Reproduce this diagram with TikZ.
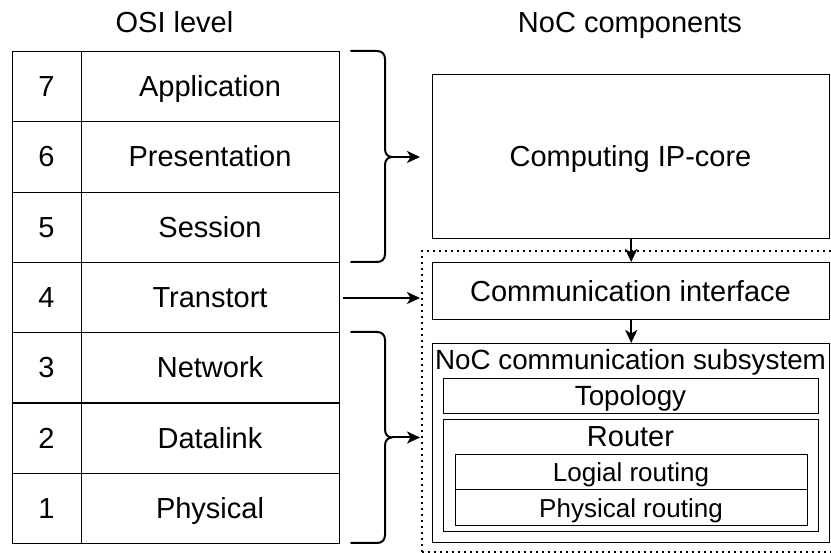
\documentclass[tikz,border=0pt]{standalone}
\usepackage{fontspec}
\setmainfont{Liberation Sans}
\usetikzlibrary{arrows.meta}

\begin{document}
\begin{tikzpicture}[x=1pt,y=-1pt,
  cell/.style={draw, line width=1.1pt, rectangle, inner sep=0pt, anchor=north west},
  box/.style={draw, line width=1.4pt, rectangle, inner sep=0pt, anchor=north west},
  group/.style={draw, line width=1.8pt, dash pattern=on 1.8pt off 4.2pt, rectangle, inner sep=0pt, anchor=north west},
  big/.style={font=\fontsize{29}{33}\selectfont, inner sep=0pt, anchor=base},
  mid/.style={font=\fontsize{27.8}{32}\selectfont, inner sep=0pt, anchor=base},
  small/.style={font=\fontsize{26}{30}\selectfont, inner sep=0pt, anchor=base},
  brace/.style={line width=2pt, line cap=round, line join=round},
  arr/.style={line width=2pt, -{Stealth[length=13pt,width=12pt,inset=3.5pt]}},
]
\clip (0,0) rectangle (831,553);

% column headers
\node[big] (hosi) at (174.5,33) {OSI level};
\node[big] (hnoc) at (630,33) {NoC components};

% OSI layer table
\foreach \n/\t [count=\i from 0] in {7/Application,6/Presentation,5/Session,4/Transtort,3/Network,2/Datalink,1/Physical} {
  \pgfmathsetmacro\ry{51+70.2857*\i}
  \pgfmathsetmacro\by{\ry+35.14+10.5}
  \node[cell, minimum width=69pt, minimum height=70.29pt] (num\n) at (12,\ry) {};
  \node[cell, minimum width=258pt, minimum height=70.29pt] (lay\n) at (81,\ry) {};
  \node[big] (numtxt\n) at (46.5,\by) {\n};
  \node[big] (laytxt\n) at (210,\by) {\t};
}

% NoC component boxes
\node[group, minimum width=420pt, minimum height=301pt] (grp) at (421,250) {};
\node[box, minimum width=397pt, minimum height=164pt] (ip) at (432,74) {};
\node[big] (iptxt) at (630.5,167) {Computing IP-core};
\node[box, minimum width=397pt, minimum height=57pt] (comm) at (432,262) {};
\node[big] (commtxt) at (630.5,301.5) {Communication interface};
\node[box, minimum width=397pt, minimum height=199pt] (noc) at (432,343) {};
\node[mid] (noctxt) at (630.5,370) {NoC communication subsystem};
\node[box, minimum width=375pt, minimum height=35pt] (topo) at (443,378) {};
\node[mid] (topotxt) at (630.5,406) {Topology};
\node[box, minimum width=375pt, minimum height=112pt] (router) at (443,419) {};
\node[big] (routertxt) at (630.5,447) {Router};
\node[box, minimum width=352pt, minimum height=35pt] (logic) at (455,454) {};
\node[small] (logictxt) at (631,481.5) {Logial routing};
\node[box, minimum width=352pt, minimum height=36pt] (phys) at (455,489) {};
\node[small] (physttxt) at (631,517.5) {Physical routing};

% braces grouping layers 7-5 and 3-1
\draw[brace] (351,51) -- (377,51) .. controls (382,51) and (385,54) .. (385,59)
  -- (385,149) .. controls (385,154) and (388,157) .. (392,157)
  .. controls (388,157) and (385,160) .. (385,165)
  -- (385,254) .. controls (385,259) and (382,262) .. (377,262) -- (351,262);
\draw[brace] (351,332) -- (377,332) .. controls (382,332) and (385,335) .. (385,340)
  -- (385,429.5) .. controls (385,434.5) and (388,437.5) .. (392,437.5)
  .. controls (388,437.5) and (385,440.5) .. (385,445.5)
  -- (385,535) .. controls (385,540) and (382,543) .. (377,543) -- (351,543);

% connectors
\coordinate (b1) at (392,157);
\coordinate (t1) at (420,157);
\coordinate (s4) at (343,298);
\coordinate (t4) at (420,298);
\coordinate (b2) at (392,437.5);
\coordinate (t2) at (420,437.5);
\draw[arr] (b1) -- (t1);
\draw[arr] (s4) -- (t4);
\draw[arr] (b2) -- (t2);
\draw[arr] (ip.south) -- (comm.north);
\draw[arr] (comm.south) -- (noc.north);
\end{tikzpicture}
\end{document}
